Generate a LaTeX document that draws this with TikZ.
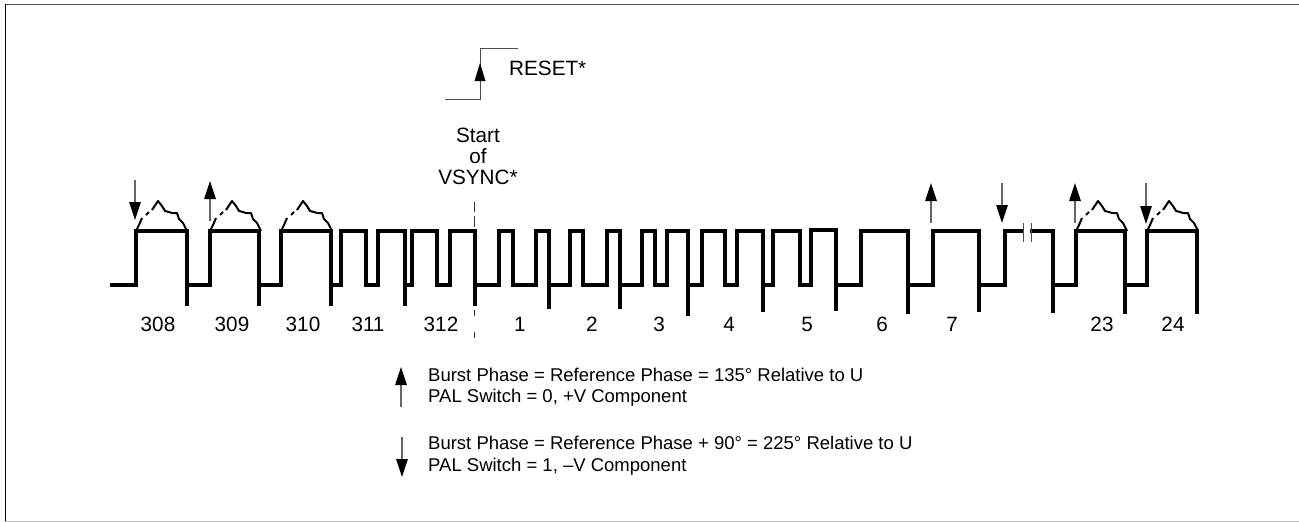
\documentclass[tikz,border=0pt]{standalone}
\usepackage{fontspec}
\setmainfont{Liberation Sans}
\usetikzlibrary{arrows.meta}
\tikzset{
  x=1pt,y=-1pt,
  wave/.style={line width=3.3pt,line join=miter,line cap=butt},
  burstline/.style={line width=2pt,line join=round},
  thin rule/.style={line width=1pt,black!70},
  sig arrow/.style={line width=1.2pt,black!60,-{Triangle[black,length=18pt,width=11.5pt]}},
  num/.style={font=\fontsize{20.7pt}{22pt}\selectfont,anchor=base,inner sep=0pt},
  legend/.style={font=\fontsize{18.5pt}{20pt}\selectfont,anchor=base west,inner sep=0pt},
}
\newcommand{\burstat}[1]{%
  \begin{scope}[shift={(#1,231)}]
    \draw[burstline] (0,0)--(3,-6)--(6,-13);
    \draw[burstline] (10,-16)--(13,-19);
    \draw[burstline] (16,-21)--(22,-30)--(26,-25)--(29,-20)--(33,-19)--(36,-18)--(41,-18)--(43,-12)--(47,-8)--(51,0);
  \end{scope}}
\begin{document}
\begin{tikzpicture}
\useasboundingbox (0,0) rectangle (1299,522);
\fill[white] (0,0) rectangle (1299,522);
\draw[line width=1.2pt,black!65] (5.5,4.5)--(1299,4.5);
\draw[line width=1.2pt,black] (5.5,4)--(5.5,521);
\draw[line width=1.2pt,black!25] (5,521.3)--(1299,521.3);

% waveform
\draw[wave] (110,285)-|(136,231)-|(187,306);
\draw[wave] (187,285)-|(210,231)-|(259,306);
\draw[wave] (259,285)-|(281,231)-|(331,306);
\draw[wave] (331,285)-|(341,231)-|(366,285)-|(378,231)-|(405,306);
\draw[wave] (405,285)-|(412,231)-|(437,285)-|(450,231)-|(475,306);
\draw[wave] (475,285)-|(499,231)-|(513,285)-|(536,231)-|(549,309);
\draw[wave] (549,285)-|(570,231)-|(583,285)-|(607,231)-|(620,309);
\draw[wave] (620,285)-|(642,231)-|(655,285)-|(667,231)-|(688,316);
\draw[wave] (688,285)-|(702,231)-|(725,285)-|(737,231)-|(763,312);
\draw[wave] (763,285)-|(773,231)-|(800,285)-|(811,230)-|(836,311);
\draw[wave] (836,285)-|(861,231)-|(908,314);
\draw[wave] (908,285)-|(933,231)-|(979,312);
\draw[wave] (979,285)-|(1005,231)-|(1053,313);
\draw[wave] (1053,285)-|(1076,231)-|(1125,314);
\draw[wave] (1125,285)-|(1147,231)-|(1197,314);

% break
\fill[white] (1024,226) rectangle (1030,236);
\draw[thin rule] (1023,223)--(1023,242);
\draw[thin rule] (1031,223)--(1031,242);

% bursts
\burstat{136}\burstat{210}\burstat{281}\burstat{1076}\burstat{1147}

% phase arrows
\draw[sig arrow] (135,180)--(135,220);
\draw[sig arrow] (210,221)--(210,181);
\draw[sig arrow] (931,223)--(931,183);
\draw[sig arrow] (1002,183)--(1002,223);
\draw[sig arrow] (1075,223)--(1075,183);
\draw[sig arrow] (1146,183)--(1146,224);

% VSYNC marker
\draw[line width=1pt,black!80] (474.5,202)--(474.5,212) (474.5,216)--(474.5,227) (474.5,310)--(474.5,316) (474.5,332)--(474.5,338);

% RESET
\coordinate (rs) at (480,99);
\draw[line width=1pt,black!70] (445,99)--(rs)--(480,48)--(518,48);
\fill (480,63)--(485.5,81)--(474.5,81)--cycle;
\node[num,anchor=base west] (reset) at (509,75) {RESET*};
\node[num] (start) at (478,142) {Start};
\node[num] (of) at (478,163) {of};
\node[num] (vsync) at (478,184) {VSYNC*};

% numbers
\foreach \n/\x in {308/158,309/232,310/303,311/368,312/441,1/520,2/592,3/659,4/729,5/807,6/882,7/952,23/1102,24/1173}
  \node[num] (n\n) at (\x,331) {\n};

% legend
\draw[sig arrow] (401,407)--(401,367);
\draw[sig arrow] (402,437)--(402,477);
\node[legend] (l1) at (428,381) {Burst Phase = Reference Phase = 135° Relative to U};
\node[legend] (l2) at (428,402) {PAL Switch = 0, +V Component};
\node[legend] (l3) at (428,449) {Burst Phase = Reference Phase + 90° = 225° Relative to U};
\node[legend] (l4) at (428,471) {PAL Switch = 1, –V Component};
\end{tikzpicture}
\end{document}
